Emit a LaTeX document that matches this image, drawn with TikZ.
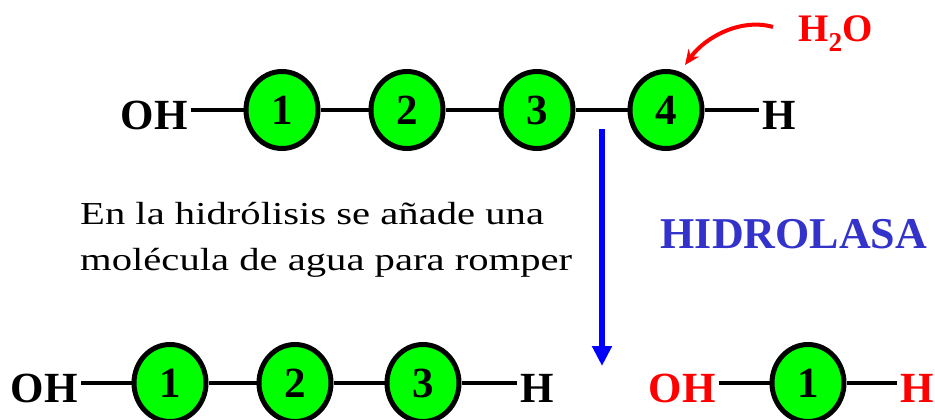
\documentclass[tikz,border=0pt]{standalone}
\usepackage{fontspec}
\setmainfont{Liberation Serif}
\newfontfamily\widefont{Liberation Serif}[FakeStretch=1.27]
\usetikzlibrary{shapes.geometric,arrows.meta}
\definecolor{beadgreen}{HTML}{00FF00}
\definecolor{enzblue}{HTML}{3333CC}
\definecolor{waterred}{HTML}{FF0000}
\definecolor{arrowblue}{HTML}{0000FF}
\newcommand\labfont{\fontsize{43}{43}\selectfont\bfseries}
\begin{document}
\begin{tikzpicture}[x=1pt,y=-1pt,
  bead/.style={ellipse, draw=black, line width=5pt, fill=beadgreen,
    minimum width=72pt, minimum height=77pt, inner sep=0pt, font=\labfont},
  lbl/.style={inner sep=3pt, font=\labfont},
  bond/.style={line width=4.5pt, black}]

% canvas
\fill[white] (0,0) rectangle (935,420);
\useasboundingbox (0,0) rectangle (935,420);

% ---- starting chain: OH-1-2-3-4-H ----
\node[lbl, anchor=base east] (oha) at (191,129) {OH};
\node[bead] (a1) at (282,110) {1};
\node[bead] (a2) at (407,110) {2};
\node[bead] (a3) at (537,110) {3};
\node[bead] (a4) at (666,110) {4};
\node[lbl, anchor=base west] (ha) at (759,129) {H};
\draw[bond] (oha.east |- a1) -- (a1);
\draw[bond] (a1) -- (a2);
\draw[bond] (a2) -- (a3);
\draw[bond] (a3) -- (a4);
\draw[bond] (a4) -- (ha.west |- a4);

% ---- water entering ----
\node[inner sep=0pt, anchor=base west, text=waterred,
  font=\fontsize{39}{39}\selectfont\bfseries] (water) at (798,42) {H\textsubscript{2}O};
\coordinate (wfrom) at (773,27);
\coordinate (wto) at (685,65);
\draw[waterred, line width=4pt, -{Stealth[length=15pt,width=13pt]}]
  (wfrom) .. controls (742,18) and (706,36) .. (wto);

% ---- reaction arrow ----
\coordinate (rtop) at (602,129);
\coordinate (rbot) at (602,366);
\draw[arrowblue, line width=6pt, -{Triangle[length=20pt,width=19pt]}] (rtop) -- (rbot);

% ---- explanation ----
\node[anchor=north west, align=left, inner sep=0pt,
  font=\widefont\fontsize{32}{46}\selectfont] (expl) at (80,202)
  {En la hidrólisis se añade una\\molécula de agua para romper};
\node[anchor=base, inner sep=0pt, text=enzblue,
  font=\fontsize{44}{44}\selectfont\bfseries] (enz) at (794,248) {HIDROLASA};

% ---- product: OH-1-2-3-H ----
\node[lbl, anchor=base east] (ohb) at (81,402) {OH};
\node[bead] (b1) at (170,383) {1};
\node[bead] (b2) at (295,383) {2};
\node[bead] (b3) at (423,383) {3};
\node[lbl, anchor=base west] (hb) at (517,402) {H};
\draw[bond] (ohb.east |- b1) -- (b1);
\draw[bond] (b1) -- (b2);
\draw[bond] (b2) -- (b3);
\draw[bond] (b3) -- (hb.west |- b3);

% ---- released unit: OH-1-H ----
\node[lbl, anchor=base east, text=waterred] (ohc) at (719,402) {OH};
\node[bead] (c1) at (808,383) {1};
\node[lbl, anchor=base west, text=waterred] (hc) at (897,402) {H};
\draw[bond] (ohc.east |- c1) -- (c1);
\draw[bond] (c1) -- (hc.west |- c1);
\end{tikzpicture}
\end{document}
